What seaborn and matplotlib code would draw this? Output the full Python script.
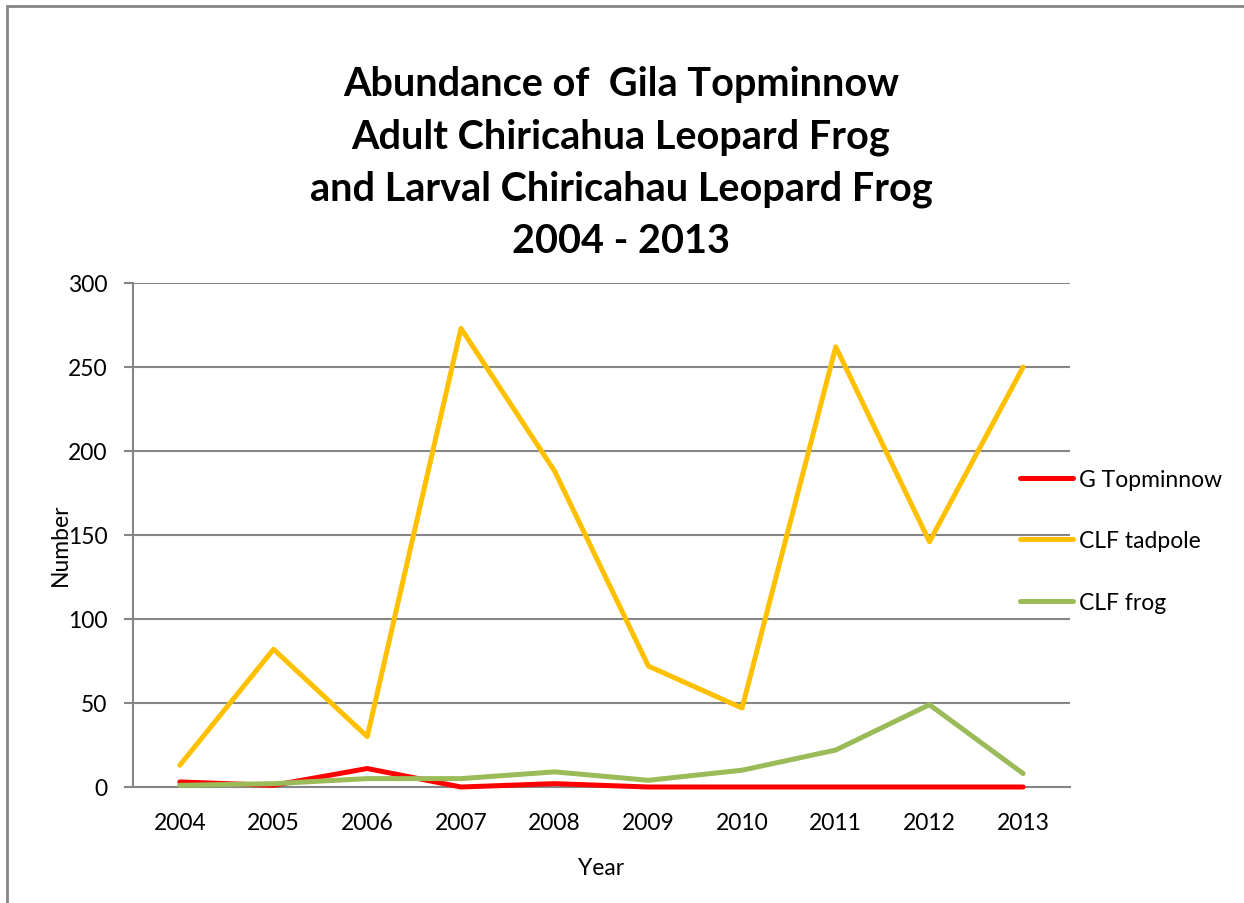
import matplotlib
matplotlib.use("Agg")
import numpy as np
import pandas as pd
import matplotlib.pyplot as plt
import seaborn as sns
from matplotlib.patches import Rectangle

years = ["2004", "2005", "2006", "2007", "2008", "2009", "2010", "2011", "2012", "2013"]
topminnow = [3, 1, 11, 0, 2, 0, 0, 0, 0, 0]
tadpole = [13, 82, 30, 273, 188, 72, 47, 262, 146, 250]
frog = [1, 2, 5, 5, 9, 4, 10, 22, 49, 8]

series_names = ["G Topminnow", "CLF tadpole", "CLF frog"]
colors = ["#FF0000", "#FFC000", "#9BBB59"]

df = pd.DataFrame({
    "Year": years * 3,
    "Number": topminnow + tadpole + frog,
    "Series": [s for s in series_names for _ in years],
})

sns.set_theme(style="white")
plt.rcParams["font.family"] = ["Lato", "DejaVu Sans"]
plt.rcParams["text.color"] = "black"
plt.rcParams["axes.labelcolor"] = "black"
plt.rcParams["xtick.labelcolor"] = "black"
plt.rcParams["ytick.labelcolor"] = "black"

fig = plt.figure(figsize=(12.44, 9.04), dpi=100)
ax = fig.add_axes([133 / 1244, 1 - 788 / 904, 937 / 1244, 504 / 904])

sns.lineplot(data=df, x="Year", y="Number", hue="Series", palette=colors,
             hue_order=series_names, linewidth=3.6, ax=ax, sort=False,
             solid_capstyle="round", solid_joinstyle="round")
for ln in ax.get_lines():
    ln.set_clip_on(False)
    ln.set_zorder(3)

grid_col = "#868686"
ax.set_xlim(-0.5, 9.5)
ax.set_ylim(0, 300)
ax.set_yticks(np.arange(0, 301, 50))
ax.yaxis.grid(True, color=grid_col, linewidth=1.5)
ax.set_axisbelow(True)
ax.set_xticks(range(len(years)))
ax.set_xticklabels(years)
ax.set_xticks(np.arange(-0.5, 10, 1), minor=True)
ax.tick_params(axis="x", which="major", length=0, labelsize=16.5, pad=18)
ax.tick_params(axis="x", which="minor", length=6.5, width=1.5, color=grid_col, direction="out")
ax.tick_params(axis="y", length=6.5, width=1.5, color=grid_col, direction="out", labelsize=16.5, pad=12, left=True)
for side in ["top", "right"]:
    ax.spines[side].set_visible(False)
for side in ["left", "bottom"]:
    ax.spines[side].set_color(grid_col)
    ax.spines[side].set_linewidth(1.5)

ax.set_xlabel("Year", fontsize=16.5, labelpad=17)
ax.set_ylabel("Number", fontsize=16.5)
ax.yaxis.set_label_coords((71 - 133) / 937, (788 - 545) / 504)

leg = ax.legend(loc="center left", bbox_to_anchor=(1020 / 1244, 1 - 542 / 904),
                bbox_transform=fig.transFigure, frameon=False, fontsize=16.5,
                handlelength=2.3, handletextpad=0.26, labelspacing=1.75, borderaxespad=0,
                borderpad=0)
for line in leg.get_lines():
    line.set_linewidth(3.6)
    line.set_solid_capstyle("round")

fig.text(621 / 1244, 1 - 163 / 904,
         "Abundance of  Gila Topminnow\nAdult Chiricahua Leopard Frog\nand Larval Chiricahau Leopard Frog\n2004 - 2013",
         ha="center", va="center", fontsize=28.5, fontweight="bold", linespacing=1.5)

fig.patches.append(Rectangle((7.5 / 1244, -0.05), 1.1, 1 - 7 / 904 + 0.05, transform=fig.transFigure,
                             fill=False, edgecolor=grid_col, linewidth=2, zorder=0))

fig.savefig("out.png", dpi=100)
